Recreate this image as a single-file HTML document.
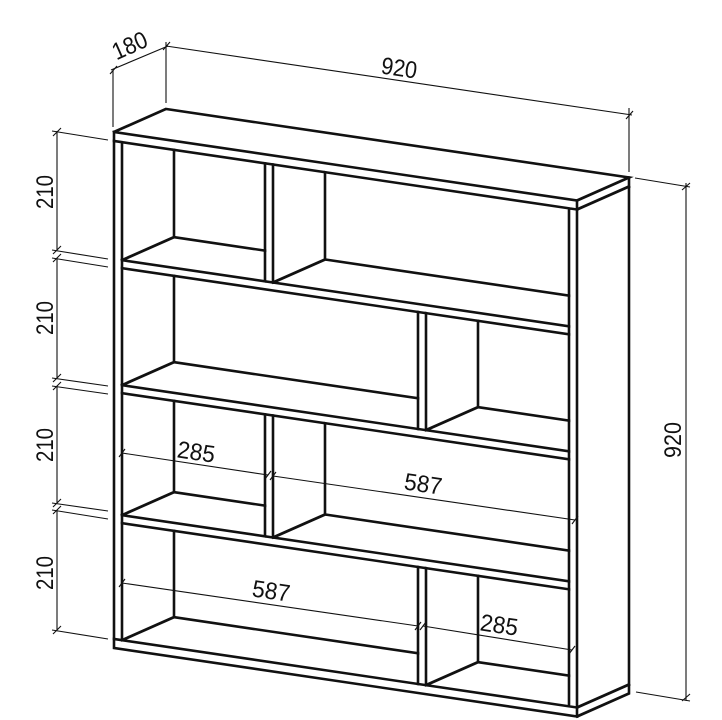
<!DOCTYPE html>
<html><head><meta charset="utf-8"><style>
html,body{margin:0;padding:0;background:#fff;}
svg{display:block;}
text{font-family:"Liberation Sans",sans-serif;font-size:24px;fill:#111;}
</style></head><body>
<svg width="722" height="720" viewBox="0 0 722 720" xmlns="http://www.w3.org/2000/svg">
<g transform="matrix(1,0.148,0,1,0,-16.9)" fill="none" stroke="#111" stroke-width="2.6" stroke-linejoin="miter" stroke-linecap="square">
  <path d="M114,132 L166,101.3 L629,101.3 L577,132"/>
  <path d="M629,101.3 L629,617.3 L577,648"/>
  <path d="M577,141 L629,110.3"/>
  <path d="M577,639 L629,608.3"/>
  <rect x="114" y="132" width="463" height="516"/>
  <path d="M114,141 H577 M114,639 H577 M122,141 V639 M569,141 V639"/>
  <path d="M122,259 H569 M122,267 H569 M122,384 H569 M122,392 H569 M122,514 H569 M122,522 H569"/>
  <path d="M265,141 V259 M273,141 V259 M418,267 V384 M426,267 V384 M265,392 V514 M273,392 V514 M418,522 V639 M426,522 V639"/>
  <path d="M174,141 V228.3 M122,259 L174,228.3 H265"/>
  <path d="M325,141 V228.3 M273,259 L325,228.3 H569"/>
  <path d="M174,267 V353.3 M122,384 L174,353.3 H418"/>
  <path d="M478,267 V353.3 M426,384 L478,353.3 H569"/>
  <path d="M174,392 V483.3 M122,514 L174,483.3 H265"/>
  <path d="M325,392 V483.3 M273,514 L325,483.3 H569"/>
  <path d="M174,522 V608.3 M122,639 L174,608.3 H418"/>
  <path d="M478,522 V608.3 M426,639 L478,608.3 H569"/>
</g>
<g fill="none" stroke="#111" stroke-width="1.1">
  <path d="M113,70 V127 M166,42 V103 M111,70 L168,46"/>
  <path d="M110,74 L117,66 M163,50 L170,42"/>
  <path d="M166,46 L632,115 M629,108 V172"/>
  <path d="M626,119 L633,111"/>
  <path d="M635,178 L690,187 M636,692 L690,701 M686,183 V701"/>
  <path d="M682,190 L690,183 M682,701 L690,694"/>
  <path d="M52,131 L108,140 M52,250 L108,259 M52,258 L108,267 M52,378 L108,386 M52,386 L108,394 M52,503 L108,511 M52,510 L108,519 M52,630 L108,639"/>
  <path d="M57,131 V250 M57,258 V378 M57,386 V503 M57,510 V630"/>
  <path d="M53,136 L61,128 M53,254 L61,246 M53,262 L61,254 M53,382 L61,374 M53,390 L61,382 M53,507 L61,499 M53,514 L61,506 M53,634 L61,626"/>
  <path d="M122,453 L268,475 M273,476 L575,520 M122,583 L418,626 M423,626 L572,650"/>
  <path d="M119,457 L125,449 M265,479 L271,471 M270,480 L276,472 M572,524 L578,516 M119,587 L125,579 M415,630 L421,622 M420,630 L426,622 M569,654 L575,646"/>
</g>
<g>
  <text transform="translate(133,53) rotate(-24)" text-anchor="middle" textLength="36" lengthAdjust="spacingAndGlyphs">180</text>
  <text transform="translate(398,76) rotate(8.5)" text-anchor="middle" textLength="36" lengthAdjust="spacingAndGlyphs">920</text>
  <text transform="translate(681,440) rotate(-90)" text-anchor="middle" textLength="36" lengthAdjust="spacingAndGlyphs">920</text>
  <text transform="translate(53,192) rotate(-90)" text-anchor="middle" textLength="34" lengthAdjust="spacingAndGlyphs">210</text>
  <text transform="translate(53,318) rotate(-90)" text-anchor="middle" textLength="34" lengthAdjust="spacingAndGlyphs">210</text>
  <text transform="translate(53,445) rotate(-90)" text-anchor="middle" textLength="34" lengthAdjust="spacingAndGlyphs">210</text>
  <text transform="translate(53,573) rotate(-90)" text-anchor="middle" textLength="34" lengthAdjust="spacingAndGlyphs">210</text>
  <text transform="translate(195,460) rotate(8.5)" text-anchor="middle" textLength="38" lengthAdjust="spacingAndGlyphs">285</text>
  <text transform="translate(422,492) rotate(8.5)" text-anchor="middle" textLength="38" lengthAdjust="spacingAndGlyphs">587</text>
  <text transform="translate(270,599) rotate(8.5)" text-anchor="middle" textLength="38" lengthAdjust="spacingAndGlyphs">587</text>
  <text transform="translate(498,633) rotate(8.5)" text-anchor="middle" textLength="38" lengthAdjust="spacingAndGlyphs">285</text>
</g>
</svg>
</body></html>
